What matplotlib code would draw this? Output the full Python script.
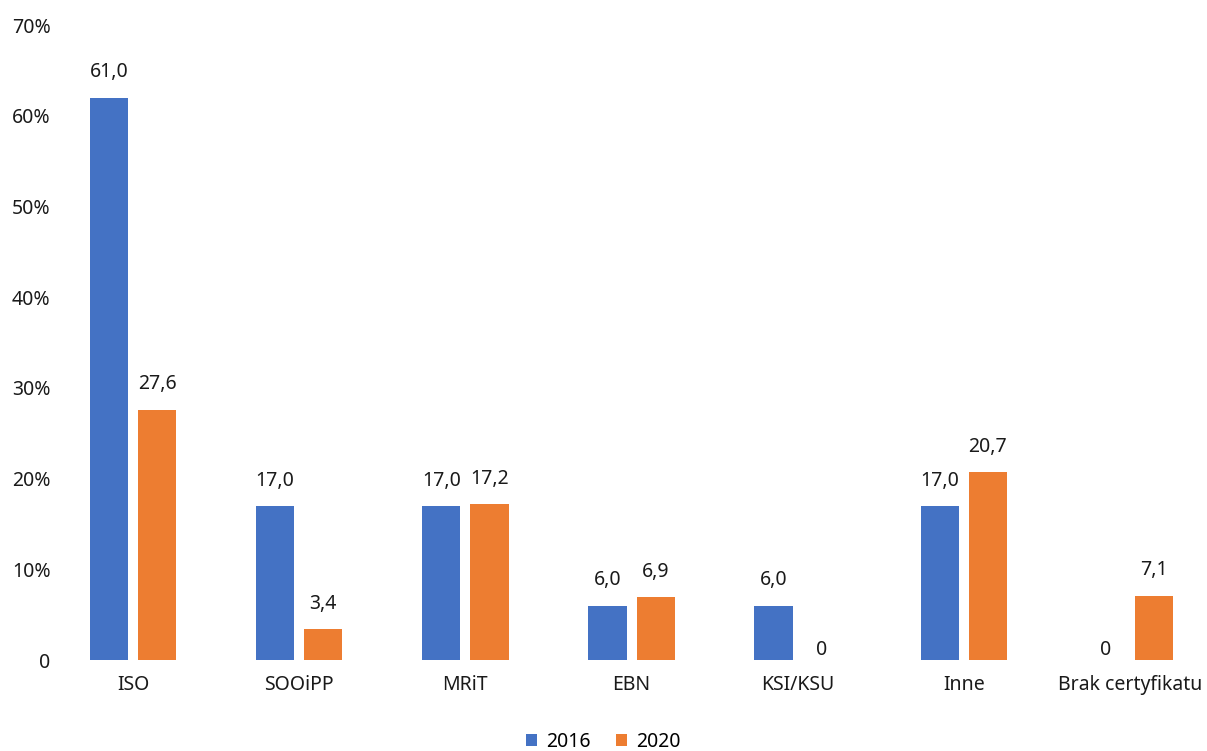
import matplotlib.pyplot as plt
import numpy as np

plt.rcParams['font.family'] = ['Noto Sans', 'DejaVu Sans']

categories = ['ISO', 'SOOiPP', 'MRiT', 'EBN', 'KSI/KSU', 'Inne', 'Brak certyfikatu']
years = ['2016', '2020']
vals_2016 = [62.0, 17.0, 17.0, 6.0, 6.0, 17.0, 0.0]
vals_2020 = [27.6, 3.4, 17.2, 6.9, 0.0, 20.7, 7.1]
labels_2016 = ['61,0', '17,0', '17,0', '6,0', '6,0', '17,0', '0']
labels_2020 = ['27,6', '3,4', '17,2', '6,9', '0', '20,7', '7,1']
colors = ['#4472C4', '#ED7D31']

fig = plt.figure(figsize=(12.07, 7.51), dpi=100)
ax = fig.add_axes([70 / 1207, 91 / 751, 1137 / 1207, 635 / 751])

x = np.arange(len(categories))
w = 0.23
off = 0.145
for vals, labs, col, sign, yr in [(vals_2016, labels_2016, colors[0], -1, years[0]),
                                  (vals_2020, labels_2020, colors[1], 1, years[1])]:
    bars = ax.bar(x + sign * off, vals, width=w, color=col, label=yr)
    for b, v, lab in zip(bars, vals, labs):
        dy = 11 if v > 0 else 0
        ax.annotate(lab, (b.get_x() + b.get_width() / 2, v), xytext=(0, dy),
                    textcoords='offset points', ha='center', va='bottom',
                    fontsize=14, color='#1a1a1a')

ax.set_ylim(0, 70)
ax.set_xlim(-0.379, 6.463)
ax.set_yticks(range(0, 80, 10))
ax.set_yticklabels(['0'] + [f'{v}%' for v in range(10, 80, 10)])
ax.set_xticks(x)
ax.set_xticklabels(categories)
ax.tick_params(axis='both', length=0, labelsize=14, colors='#1a1a1a')
ax.tick_params(axis='x', pad=11)
ax.tick_params(axis='y', pad=14)
for s in ax.spines.values():
    s.set_visible(False)

fig.legend(loc='lower center', bbox_to_anchor=(0.5, -0.024), ncol=2, frameon=False,
           fontsize=14, handlelength=0.55, handleheight=0.55, handletextpad=0.5,
           columnspacing=1.3)

fig.savefig('out.png', dpi=100)
